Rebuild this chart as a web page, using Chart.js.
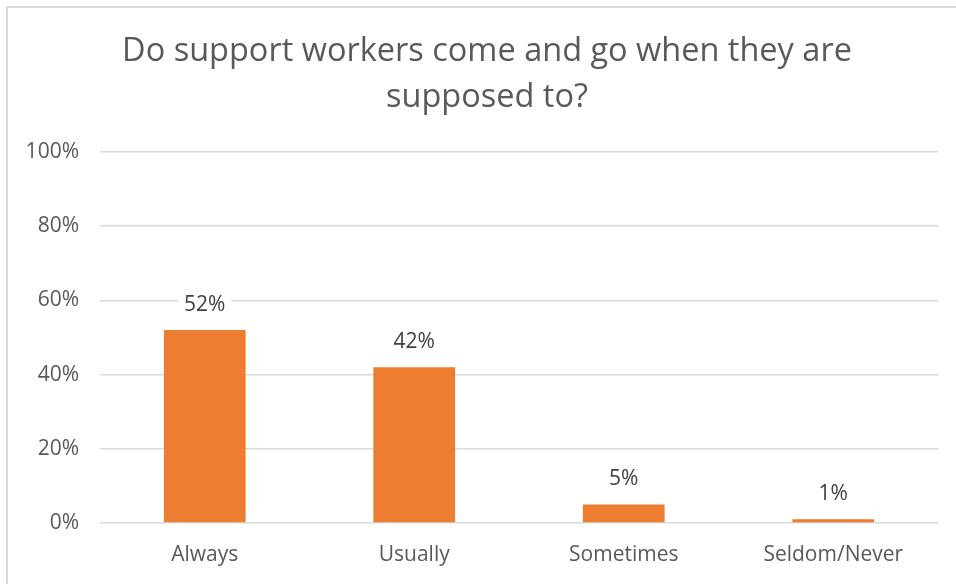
<!DOCTYPE html>
<html lang="en">
<head>
    <meta charset="UTF-8">
    <title>Support workers</title>
    <script src="https://cdn.jsdelivr.net/npm/chart.js"></script>
    <style>
        body {
            margin: 0;
            padding: 0;
            background-color: #fff;
            overflow: hidden;
        }

        .frame {
            position: absolute;
            left: 6px;
            top: 6px;
            width: 1000px;
            height: 700px;
            border: 2px solid #d9d9d9;
        }

        #chart {
            position: absolute;
            left: 0;
            top: 0;
        }
    </style>
</head>
<body>
    <div class="frame"></div>
    <canvas id="chart" width="956" height="584"></canvas>

<script>
    var categories = ['Always', 'Usually', 'Sometimes', 'Seldom/Never'];
    var percentages = [52, 42, 5, 1];
    var titleLines = ['Do support workers come and go when they are', 'supposed to?'];

    var textColor = '#595959';
    var fontFamily = '"Open Sans", Lato, sans-serif';

    // value labels above each bar, with a white box so the gridline is cut
    var valueLabels = {
        id: 'valueLabels',
        afterLayout: function(chart) {
            // the title sits a little right of the plot centre in the original
            chart.titleBlock.left = 36;
        },
        afterDatasetsDraw: function(chart) {
            var ctx = chart.ctx;
            var bars = chart.getDatasetMeta(0).data;
            ctx.save();
            ctx.font = '21px ' + fontFamily;
            ctx.textAlign = 'center';
            ctx.textBaseline = 'middle';
            bars.forEach(function(bar, i) {
                var txt = percentages[i] + '%';
                var w = ctx.measureText(txt).width;
                ctx.fillStyle = '#fff';
                ctx.fillRect(bar.x - w / 2 - 6, bar.y - 38, w + 12, 26);
                ctx.fillStyle = '#404040';
                ctx.fillText(txt, bar.x, bar.y - 25);
            });
            ctx.restore();
        }
    };

    var ctx = document.getElementById('chart').getContext('2d');
    var myChart = new Chart(ctx, {
        type: 'bar',
        data: {
            labels: categories,
            datasets: [{
                label: 'Responses',
                data: percentages,
                backgroundColor: '#ed7d31',
                borderWidth: 0,
                barPercentage: 0.39,
                categoryPercentage: 1
            }]
        },
        options: {
            responsive: false,
            animation: false,
            layout: {
                padding: { left: 0, right: 18, top: 0, bottom: 0 }
            },
            plugins: {
                legend: { display: false },
                tooltip: { enabled: false },
                title: {
                    display: true,
                    text: titleLines,
                    color: textColor,
                    font: { family: fontFamily, size: 32.5, weight: 'normal', lineHeight: 1.415 },
                    padding: { top: 29, bottom: 31 }
                }
            },
            scales: {
                x: {
                    afterFit: function(scale) {
                        scale.height = 61;
                    },
                    grid: { display: false, drawTicks: false },
                    border: { display: false },
                    ticks: {
                        color: textColor,
                        font: { family: fontFamily, size: 21 },
                        padding: 19
                    }
                },
                y: {
                    min: 0,
                    max: 100,
                    afterFit: function(scale) {
                        scale.width = 100;
                    },
                    grid: { color: '#d9d9d9', lineWidth: 1.5, drawTicks: false },
                    border: { display: false },
                    ticks: {
                        stepSize: 20,
                        color: textColor,
                        font: { family: fontFamily, size: 21 },
                        padding: 21,
                        callback: function(v) { return v + '%'; }
                    }
                }
            }
        },
        plugins: [valueLabels]
    });
</script>
</body>
</html>
